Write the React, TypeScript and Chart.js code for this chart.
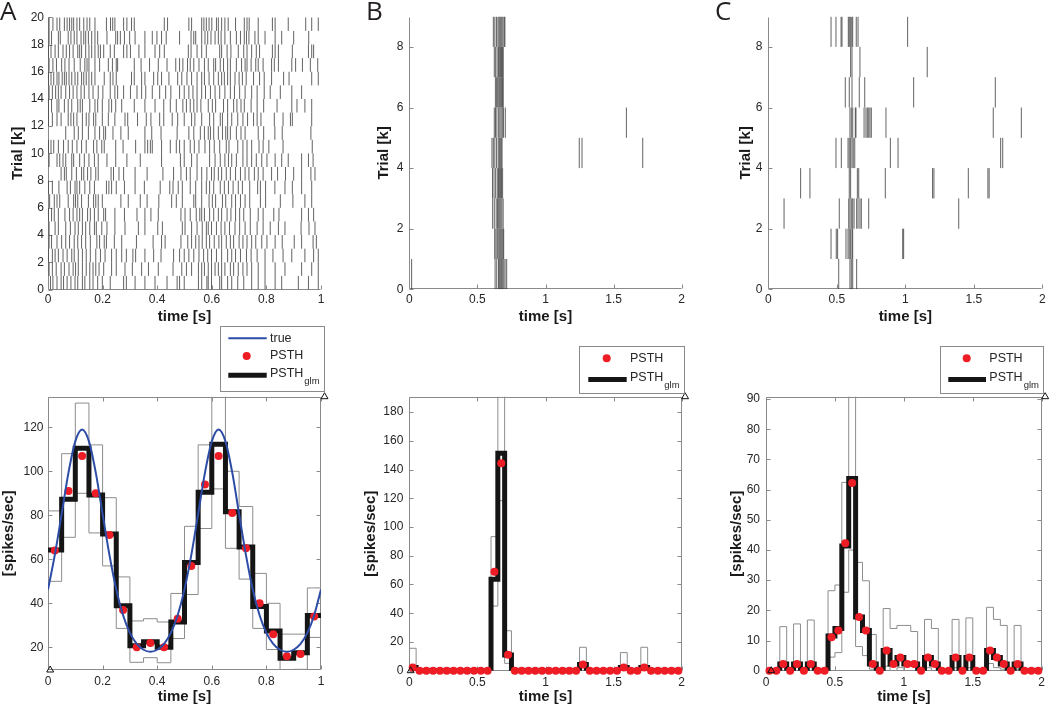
import React, { useEffect, useRef } from "react";
import { Chart, registerables } from "chart.js";

Chart.register(...registerables);

// ======================= DATA =======================
// Panel A raster: spike times [s], one array per trial (index 0 = trial 1)
const rasterA: number[][] = [
  [0.009,0.018,0.033,0.048,0.057,0.070,0.084,0.099,0.109,0.126,0.135,0.153,0.165,0.182,0.199,0.228,0.277,0.287,0.319,0.355,0.392,0.436,0.473,0.482,0.499,0.551,0.563,0.582,0.587,0.599,0.629,0.636,0.658,0.673,0.695,0.717,0.746,0.770,0.795,0.832,0.856,0.917,0.954,0.990],
  [0.004,0.016,0.030,0.048,0.060,0.077,0.092,0.101,0.111,0.126,0.140,0.153,0.165,0.175,0.187,0.204,0.233,0.250,0.282,0.309,0.343,0.368,0.404,0.458,0.490,0.507,0.526,0.551,0.563,0.573,0.587,0.599,0.612,0.624,0.636,0.648,0.668,0.680,0.697,0.714,0.729,0.746,0.770,0.795,0.832,0.868,0.929,0.966,0.990],
  [0.001,0.016,0.026,0.038,0.055,0.070,0.087,0.096,0.111,0.126,0.140,0.155,0.175,0.192,0.209,0.233,0.250,0.270,0.287,0.311,0.321,0.355,0.387,0.414,0.460,0.482,0.499,0.516,0.534,0.553,0.570,0.585,0.599,0.617,0.636,0.658,0.673,0.687,0.705,0.727,0.744,0.766,0.795,0.824,0.861,0.893,0.941,0.973,0.990],
  [0.004,0.013,0.033,0.050,0.065,0.079,0.096,0.109,0.123,0.138,0.155,0.179,0.189,0.206,0.214,0.243,0.270,0.324,0.385,0.416,0.429,0.487,0.512,0.526,0.541,0.553,0.565,0.580,0.592,0.609,0.626,0.636,0.653,0.668,0.680,0.700,0.714,0.729,0.746,0.761,0.783,0.802,0.832,0.858,0.902,0.929,0.971,0.983],
  [0.004,0.026,0.038,0.065,0.082,0.099,0.111,0.126,0.138,0.153,0.170,0.177,0.197,0.216,0.245,0.282,0.331,0.355,0.402,0.419,0.492,0.502,0.526,0.546,0.565,0.580,0.587,0.599,0.617,0.634,0.648,0.665,0.685,0.702,0.722,0.741,0.766,0.788,0.814,0.844,0.868,0.927,0.956,0.978],
  [0.001,0.013,0.023,0.038,0.062,0.079,0.092,0.106,0.116,0.126,0.145,0.155,0.170,0.184,0.204,0.211,0.245,0.280,0.326,0.355,0.377,0.404,0.487,0.502,0.521,0.543,0.556,0.563,0.573,0.592,0.607,0.624,0.636,0.656,0.670,0.687,0.702,0.717,0.741,0.770,0.788,0.827,0.846,0.929,0.954,0.973],
  [0.006,0.023,0.033,0.043,0.074,0.094,0.101,0.109,0.123,0.148,0.167,0.175,0.184,0.199,0.267,0.294,0.338,0.363,0.406,0.453,0.470,0.492,0.534,0.541,0.563,0.590,0.602,0.614,0.639,0.651,0.673,0.687,0.705,0.722,0.739,0.778,0.797,0.851,0.897,0.941,0.966],
  [0.001,0.016,0.040,0.070,0.082,0.099,0.106,0.116,0.135,0.153,0.170,0.214,0.223,0.233,0.250,0.280,0.319,0.353,0.411,0.446,0.458,0.477,0.492,0.521,0.541,0.563,0.580,0.592,0.607,0.631,0.646,0.661,0.678,0.697,0.712,0.739,0.768,0.778,0.797,0.831,0.868,0.895,0.929,0.966],
  [0.048,0.060,0.067,0.087,0.104,0.123,0.131,0.145,0.157,0.175,0.184,0.231,0.240,0.260,0.277,0.319,0.363,0.421,0.460,0.487,0.507,0.521,0.546,0.563,0.582,0.599,0.609,0.624,0.636,0.653,0.668,0.687,0.705,0.722,0.736,0.756,0.770,0.788,0.819,0.841,0.870,0.900,0.929,0.963,0.978],
  [0.004,0.033,0.043,0.055,0.065,0.087,0.094,0.116,0.133,0.150,0.170,0.184,0.216,0.248,0.289,0.338,0.416,0.485,0.499,0.526,0.546,0.592,0.612,0.631,0.648,0.661,0.673,0.690,0.714,0.729,0.746,0.763,0.783,0.802,0.832,0.856,0.880,0.929,0.954,0.971],
  [0.001,0.011,0.021,0.038,0.057,0.074,0.089,0.106,0.123,0.140,0.167,0.179,0.197,0.206,0.248,0.275,0.321,0.355,0.365,0.375,0.382,0.416,0.448,0.470,0.482,0.499,0.521,0.536,0.553,0.575,0.592,0.609,0.629,0.653,0.663,0.695,0.714,0.729,0.746,0.773,0.788,0.809,0.861,0.968],
  [0.065,0.096,0.111,0.126,0.148,0.172,0.189,0.204,0.211,0.238,0.267,0.294,0.355,0.380,0.414,0.473,0.516,0.534,0.558,0.573,0.587,0.595,0.607,0.624,0.639,0.651,0.658,0.668,0.690,0.707,0.722,0.770,0.790,0.831,0.858,0.963],
  [0.001,0.016,0.033,0.048,0.074,0.084,0.094,0.106,0.126,0.140,0.150,0.167,0.175,0.199,0.221,0.245,0.282,0.292,0.328,0.360,0.377,0.409,0.424,0.455,0.475,0.499,0.526,0.538,0.563,0.592,0.607,0.631,0.639,0.658,0.673,0.695,0.714,0.731,0.753,0.766,0.780,0.829,0.861,0.888,0.895,0.966],
  [0.001,0.013,0.033,0.040,0.060,0.074,0.087,0.109,0.118,0.126,0.153,0.172,0.182,0.199,0.223,0.233,0.248,0.270,0.316,0.355,0.392,0.424,0.448,0.470,0.494,0.507,0.521,0.534,0.546,0.560,0.587,0.602,0.614,0.643,0.658,0.680,0.692,0.707,0.719,0.744,0.766,0.790,0.839,0.893,0.912,0.941,0.966],
  [0.004,0.016,0.028,0.038,0.048,0.065,0.079,0.092,0.106,0.121,0.133,0.150,0.165,0.184,0.201,0.228,0.245,0.255,0.277,0.302,0.326,0.343,0.358,0.382,0.409,0.431,0.450,0.482,0.499,0.516,0.531,0.546,0.563,0.577,0.595,0.612,0.629,0.648,0.668,0.683,0.702,0.722,0.746,0.766,0.792,0.814,0.851,0.893,0.929],
  [0.001,0.011,0.021,0.033,0.040,0.052,0.060,0.067,0.077,0.087,0.099,0.109,0.123,0.131,0.140,0.150,0.160,0.172,0.206,0.228,0.238,0.250,0.306,0.316,0.343,0.355,0.387,0.402,0.416,0.443,0.475,0.490,0.509,0.526,0.546,0.563,0.573,0.590,0.607,0.624,0.636,0.646,0.658,0.668,0.685,0.700,0.712,0.726,0.753,0.775,0.792,0.819,0.863,0.883,0.966,0.990],
  [0.004,0.018,0.031,0.050,0.062,0.077,0.096,0.118,0.135,0.143,0.150,0.172,0.189,0.221,0.236,0.250,0.255,0.316,0.341,0.372,0.404,0.436,0.468,0.482,0.494,0.511,0.521,0.534,0.553,0.573,0.587,0.607,0.614,0.631,0.643,0.658,0.668,0.690,0.709,0.722,0.729,0.744,0.761,0.770,0.788,0.819,0.829,0.844,0.893,0.907,0.932,0.961,0.988],
  [0.001,0.011,0.026,0.038,0.055,0.067,0.079,0.092,0.109,0.116,0.123,0.138,0.150,0.160,0.172,0.184,0.192,0.204,0.228,0.243,0.277,0.289,0.302,0.333,0.355,0.392,0.409,0.426,0.514,0.524,0.546,0.563,0.580,0.629,0.636,0.656,0.670,0.697,0.717,0.729,0.746,0.763,0.775,0.822,0.832,0.844,0.895,0.954,0.966,0.973],
  [0.004,0.013,0.038,0.045,0.074,0.084,0.096,0.106,0.121,0.131,0.138,0.148,0.160,0.172,0.182,0.216,0.248,0.255,0.265,0.280,0.299,0.319,0.355,0.382,0.399,0.416,0.433,0.482,0.524,0.534,0.541,0.563,0.575,0.585,0.597,0.612,0.624,0.634,0.648,0.668,0.690,0.705,0.719,0.727,0.736,0.758,0.770,0.795,0.832,0.856,0.900,0.955],
  [0.004,0.018,0.033,0.043,0.060,0.070,0.079,0.087,0.094,0.106,0.116,0.131,0.143,0.153,0.172,0.214,0.229,0.237,0.245,0.277,0.289,0.306,0.316,0.426,0.438,0.516,0.526,0.563,0.571,0.580,0.590,0.600,0.617,0.624,0.636,0.648,0.660,0.687,0.719,0.729,0.737,0.770,0.822,0.832,0.880,0.944,0.966,0.990],
];

// Panel B raster (index 0 = trial 1)
const rasterB: number[][] = [
  [0.017,0.630,0.642,0.655,0.663,0.671,0.678,0.686,0.694,0.703,0.715],
  [0.627,0.636,0.645,0.652,0.660,0.667,0.674,0.681,0.688,0.693],
  [0.612,0.624,0.638,0.648,0.656,0.664,0.672,0.680,0.689],
  [0.611,0.622,0.634,0.646,0.655,0.662,0.670,0.677,0.685],
  [0.607,0.617,0.628,0.641,0.653,0.661,0.668,0.675,0.681,1.248,1.268,1.714],
  [0.624,0.633,0.643,0.656,0.665,0.674,0.683,0.692,0.705,1.594],
  [0.632,0.641,0.649,0.657,0.664,0.671,0.678,0.684,0.690],
  [0.624,0.634,0.645,0.655,0.663,0.670,0.677,0.684,0.690],
  [0.617,0.628,0.640,0.651,0.659,0.666,0.673,0.680,0.688,0.697,0.702],
];

// Panel C raster (index 0 = trial 1)
const rasterC: number[][] = [
  [0.514,0.596,0.606,0.616,0.645],
  [0.458,0.496,0.506,0.567,0.582,0.591,0.601,0.611,0.616,0.981,0.988],
  [0.115,0.518,0.587,0.596,0.606,0.616,0.626,0.645,0.655,0.669,0.679,0.733,1.390],
  [0.236,0.304,0.591,0.601,0.650,0.660,0.854,1.199,1.209,1.460,1.603,1.612],
  [0.494,0.533,0.582,0.591,0.601,0.611,0.620,0.631,0.891,0.947,1.696,1.711],
  [0.596,0.606,0.616,0.635,0.640,0.699,0.713,0.723,0.733,0.742,0.752,0.859,1.642,1.847],
  [0.562,0.591,0.611,0.664,0.704,1.061,1.657],
  [0.601,0.611,0.669,1.160],
  [0.458,0.494,0.531,0.538,0.584,0.591,0.599,0.609,0.616,0.642,0.655,1.017],
];

// Panel A rates (20 bins of 0.05 s)
const binEdgesA = [0,0.05,0.1,0.15,0.2,0.25,0.3,0.35,0.4,0.45,0.5,0.55,0.6,0.65,0.7,0.75,0.8,0.85,0.9,0.95,1];
const psthA = [64,91,107,90,71,37,20,22,20,33,57,94,107,81,65,40,26,16,17,34];
const psthGlmA = [64.2,87.3,110.5,89.2,71.5,38.9,20.7,22.5,20,31.5,58.5,90.5,112.3,81.6,65.6,38.6,27.4,15,17.5,34.5];
const upperA = [82,108,131,112,88,52,32,33,31.5,44.5,75,112,145,100,84,53.6,40,26,26,47];
const lowerA = [50,70,90,72,57,28.6,13.2,15.3,13,24,44,74,92,65,51,28.6,19,9.5,10,24.5];
const trueTimeA = [0,0.025,0.05,0.075,0.1,0.125,0.15,0.175,0.2,0.225,0.25,0.275,0.3,0.325,0.35,0.375,0.4,0.425,0.45,0.475,0.5,0.525,0.55,0.575,0.6,0.625,0.65,0.675,0.7,0.725,0.75,0.775,0.8,0.825,0.85,0.875,0.9,0.925,0.95,0.975,1];
const trueRateA = [46.3,62.0,80.6,99.4,113.6,119.0,113.6,99.4,80.6,62.0,46.3,34.6,26.6,21.6,18.9,18.0,18.9,21.6,26.6,34.6,46.3,62.0,80.6,99.4,113.6,119.0,113.6,99.4,80.6,62.0,46.3,34.6,26.6,21.6,18.9,18.0,18.9,21.6,26.6,34.6,46.3];

// Panels B and C rates (40 bins of 0.05 s)
const binEdgesBC = [0,0.05,0.1,0.15,0.2,0.25,0.3,0.35,0.4,0.45,0.5,0.55,0.6,0.65,0.7,0.75,0.8,0.85,0.9,0.95,1,1.05,1.1,1.15,1.2,1.25,1.3,1.35,1.4,1.45,1.5,1.55,1.6,1.65,1.7,1.75,1.8,1.85,1.9,1.95,2];
const psthB = [2.2,0,0,0,0,0,0,0,0,0,0,0,68.9,144.4,11.1,0,0,0,0,0,0,0,0,0,0,4.4,0,0,0,0,0,2.2,0,0,2.2,0,0,0,0,0];
const psthGlmB = [2.2,0,0,0,0,0,0,0,0,0,0,0,63.6,151.3,11,0,0,0,0,0,0,0,0,0,0,4.4,0,0,0,0,0,2.2,0,0,2.2,0,0,0,0,0];
const upperB = [15.6,0,0,0,0,0,0,0,0,0,0,0,93.3,260,27.8,0,0,0,0,0,0,0,0,0,0,16.3,0,0,0,0,0,12.6,0,0,16.3,0,0,0,0,0];
const lowerB = [0,0,0,0,0,0,0,0,0,0,0,0,45,118.3,5.1,0,0,0,0,0,0,0,0,0,0,0,0,0,0,0,0,0,0,0,0,0,0,0,0,0];
const psthC = [0,0,2.2,0,2.2,0,2.2,0,0,11.1,13.3,42.2,62.2,17.8,13.3,2.2,0,6.7,2.2,4.4,2.2,2.2,0,4.4,2.2,0,0,4.4,0,4.4,0,0,6.7,4.4,2.2,0,2.2,0,0,0];
const psthGlmC = [0,0,2.2,0,2.2,0,2.2,0,0,11.5,14,41.3,63.7,17.8,13.3,2.2,0,6.7,2.2,4.4,2.2,2.2,0,4.4,2.2,0,0,4.4,0,4.4,0,0,6.7,4.4,2.2,0,2.2,0,0,0];
const upperC = [0,0,14.6,0,15.5,0,16.8,0,0,26.5,28.4,62.4,120,35.9,29.8,12,0,20.6,14,15,15,13,0,17,14,0,0,17,0,17.5,0,0,21,17,15,0,15,0,0,0];
const lowerC = [0,0,0,0,0,0,0,0,0,4.5,6,26,40,8,5,0.5,0,1.5,0,1,0,0,0,1,0,0,0,1,0,1,0,0,2.4,1,0.5,0,0.5,0,0,0];

// Axis ranges and tick values
const xRangeA = [0, 1];
const xRangeBC = [0, 2];
const xTicksA = [0, 0.2, 0.4, 0.6, 0.8, 1];
const xTicksBC = [0, 0.5, 1, 1.5, 2];
const yRangeRasterA = [0, 20];
const yRangeRasterBC = [0, 9];
const yTicksRasterA = [0, 2, 4, 6, 8, 10, 12, 14, 16, 18, 20];
const yTicksRasterBC = [0, 2, 4, 6, 8];
const yRangeRateA = [9.7, 133.9];
const yRangeRateB = [0, 190.7];
const yRangeRateC = [0, 90.8];
const yTicksRateA = [20, 40, 60, 80, 100, 120];
const yTicksRateB = [0, 20, 40, 60, 80, 100, 120, 140, 160, 180];
const yTicksRateC = [0, 10, 20, 30, 40, 50, 60, 70, 80, 90];

// Corner markers (open triangles)
const cornerMarkersA = [{ x: 0.008, y: 9.7 }, { x: 1.013, y: 133.9 }];
const cornerMarkersB = [{ x: 0.01, y: 0 }, { x: 2.025, y: 190.7 }];
const cornerMarkersC = [{ x: 0.038, y: 0 }, { x: 2.025, y: 90.8 }];

// Text
const panelLetters = ["A", "B", "C"];
const xTitle = "time [s]";
const yTitleRaster = "Trial [k]";
const yTitleRate = "[spikes/sec]";
const legendTrue = "true";
const legendPsth = "PSTH";
const legendGlmSub = "glm";

// ======================= STYLE / LAYOUT =======================
const FONT = '"Liberation Sans", Arial, Helvetica, sans-serif';
const AXIS_COLOR = "#8a8a8a";
const TEXT_COLOR = "#262626";
const RASTER_COLOR = "rgba(45,45,45,0.75)";
const BOUND_COLOR = "#8c8c8c";
const GLM_COLOR = "#151515";
const DOT_COLOR = "#ee1c25";
const TRUE_COLOR = "#2d4ca6";
const TICK_LEN = 4;

const LAYOUT: any = {
  aTop: { canvas: { x: 0, y: 0, w: 350, h: 340 }, plot: { l: 48, t: 17.3, r: 321, b: 289.5 }, yTitleX: 17.5, xTitleY: 316.5, yTickPad: 4, xTickPad: 3 },
  aBot: { canvas: { x: 0, y: 320, w: 350, h: 386 }, plot: { l: 48, t: 396.7, r: 321, b: 670 }, yTitleX: 9, xTitleY: 697, yTickPad: 4.5, xTickPad: 4.5 },
  bTop: { canvas: { x: 340, y: 0, w: 370, h: 340 }, plot: { l: 409.3, t: 16.6, r: 681.7, b: 289.3 }, yTitleX: 384, xTitleY: 316.5, yTickPad: 6, xTickPad: 3 },
  bBot: { canvas: { x: 340, y: 320, w: 370, h: 386 }, plot: { l: 409.3, t: 396.7, r: 681.7, b: 670.7 }, yTitleX: 371, xTitleY: 697, yTickPad: 6, xTickPad: 4.5 },
  cTop: { canvas: { x: 700, y: 0, w: 350, h: 340 }, plot: { l: 768.3, t: 16.6, r: 1042.3, b: 289.3 }, yTitleX: 745.5, xTitleY: 316.5, yTickPad: 6, xTickPad: 3 },
  cBot: { canvas: { x: 700, y: 320, w: 350, h: 386 }, plot: { l: 766, t: 396.7, r: 1041.7, b: 670.7 }, yTitleX: 737, xTitleY: 697, yTickPad: 6, xTickPad: 4.5 },
};

const LETTER_POS = [{ x: 0, y: 20 }, { x: 366, y: 20 }, { x: 715, y: 20 }];

const LEGENDS: any = {
  a: {
    box: { x: 220, y: 326, w: 104.3, h: 64.7 }, textX: 270,
    items: [
      { kind: "line", color: TRUE_COLOR, width: 2, x0: 228.3, x1: 266.7, y: 338.3, ty: 338.3, label: legendTrue },
      { kind: "dot", cx: 246.7, y: 356, ty: 356, label: legendPsth },
      { kind: "line", color: GLM_COLOR, width: 5, x0: 228.3, x1: 266.7, y: 375.3, ty: 373.8, label: legendPsth, sub: legendGlmSub },
    ],
  },
  b: {
    box: { x: 579.3, y: 346, w: 104.7, h: 46.7 }, textX: 630,
    items: [
      { kind: "dot", cx: 606.7, y: 358.3, ty: 358.3, label: legendPsth },
      { kind: "line", color: GLM_COLOR, width: 5, x0: 588.3, x1: 626.7, y: 379.5, ty: 377.7, label: legendPsth, sub: legendGlmSub },
    ],
  },
  c: {
    box: { x: 940, y: 346, w: 103, h: 46.7 }, textX: 989.3,
    items: [
      { kind: "dot", cx: 966.7, y: 358.3, ty: 358.3, label: legendPsth },
      { kind: "line", color: GLM_COLOR, width: 5, x0: 948.3, x1: 986, y: 379.5, ty: 377.7, label: legendPsth, sub: legendGlmSub },
    ],
  },
};

// ======================= HELPERS =======================
const halfRow = (c: any) => {
  const ys = c.chart.scales.y;
  return Math.abs(ys.getPixelForValue(0) - ys.getPixelForValue(1)) / 2;
};

function rasterDataset(rows: number[][]) {
  const pts = rows.flatMap((r, k) => r.map((t) => ({ x: t, y: k + 0.5 })));
  return {
    type: "scatter",
    data: pts,
    pointStyle: "line",
    pointRotation: 90,
    pointRadius: halfRow,
    pointHoverRadius: halfRow,
    pointBorderColor: RASTER_COLOR,
    pointBackgroundColor: RASTER_COLOR,
    pointBorderWidth: 1,
    order: 5,
  };
}

function stepDataset(edges: number[], values: number[], color: string, width: number, order: number) {
  const pts = edges.map((x, i) => ({ x, y: values[Math.min(i, values.length - 1)] }));
  return {
    type: "line",
    data: pts,
    stepped: "before",
    borderColor: color,
    borderWidth: width,
    pointRadius: 0,
    pointHoverRadius: 0,
    fill: false,
    borderJoinStyle: "miter",
    borderCapStyle: "butt",
    order,
  };
}

function dotDataset(edges: number[], values: number[]) {
  const pts = values.map((v, i) => ({ x: (edges[i] + edges[i + 1]) / 2, y: v }));
  return {
    type: "scatter",
    data: pts,
    pointStyle: "circle",
    pointRadius: 4,
    pointHoverRadius: 4,
    pointBackgroundColor: DOT_COLOR,
    pointBorderColor: DOT_COLOR,
    pointBorderWidth: 0,
    clip: false,
    order: 2,
  };
}

function trueDataset(ts: number[], vs: number[]) {
  return {
    type: "line",
    data: ts.map((t, i) => ({ x: t, y: vs[i] })),
    borderColor: TRUE_COLOR,
    borderWidth: 2,
    pointRadius: 0,
    pointHoverRadius: 0,
    cubicInterpolationMode: "monotone",
    fill: false,
    order: 1,
  };
}

function cornerDataset(pts: { x: number; y: number }[]) {
  return {
    type: "scatter",
    data: pts,
    pointStyle: "triangle",
    pointRadius: 4,
    pointHoverRadius: 4,
    pointBackgroundColor: "rgba(255,255,255,0)",
    pointBorderColor: "#111",
    pointBorderWidth: 1,
    clip: false,
    order: 0,
  };
}

function drawAxes(chart: any, box: boolean) {
  const { ctx, chartArea: a, scales } = chart;
  const xs = scales.x;
  const ys = scales.y;
  const L = Math.round(a.left) + 0.5;
  const R = Math.round(a.right) - 0.5;
  const T = Math.round(a.top) + 0.5;
  const B = Math.round(a.bottom) - 0.5;
  ctx.save();
  ctx.strokeStyle = AXIS_COLOR;
  ctx.lineWidth = 1;
  ctx.beginPath();
  if (box) {
    ctx.rect(L, T, R - L, B - T);
  } else {
    ctx.moveTo(L, T);
    ctx.lineTo(L, B);
    ctx.lineTo(R, B);
  }
  ctx.stroke();
  ctx.beginPath();
  for (const t of xs.ticks) {
    const px = Math.round(xs.getPixelForValue(t.value)) + 0.5;
    ctx.moveTo(px, B);
    ctx.lineTo(px, B - TICK_LEN);
    if (box) {
      ctx.moveTo(px, T);
      ctx.lineTo(px, T + TICK_LEN);
    }
  }
  for (const t of ys.ticks) {
    const py = Math.round(ys.getPixelForValue(t.value)) + 0.5;
    ctx.moveTo(L, py);
    ctx.lineTo(L + TICK_LEN, py);
    if (box) {
      ctx.moveTo(R, py);
      ctx.lineTo(R - TICK_LEN, py);
    }
  }
  ctx.stroke();
  ctx.restore();
}

function drawLegend(ctx: CanvasRenderingContext2D, lg: any, ox: number, oy: number) {
  ctx.save();
  const bx = Math.round(lg.box.x - ox) + 0.5;
  const by = Math.round(lg.box.y - oy) + 0.5;
  const bw = Math.round(lg.box.w);
  const bh = Math.round(lg.box.h);
  ctx.fillStyle = "#fff";
  ctx.fillRect(bx, by, bw, bh);
  ctx.strokeStyle = "#8a8a8a";
  ctx.lineWidth = 1;
  ctx.strokeRect(bx, by, bw, bh);
  for (const it of lg.items) {
    const iy = it.y - oy;
    if (it.kind === "line") {
      ctx.strokeStyle = it.color;
      ctx.lineWidth = it.width;
      ctx.lineCap = "butt";
      ctx.beginPath();
      ctx.moveTo(it.x0 - ox, iy);
      ctx.lineTo(it.x1 - ox, iy);
      ctx.stroke();
    } else {
      ctx.fillStyle = DOT_COLOR;
      ctx.beginPath();
      ctx.arc(it.cx - ox, iy, 4, 0, Math.PI * 2);
      ctx.fill();
    }
    ctx.fillStyle = TEXT_COLOR;
    ctx.textAlign = "left";
    ctx.textBaseline = "middle";
    ctx.font = `12.5px ${FONT}`;
    ctx.fillText(it.label, lg.textX - ox, it.ty - oy);
    if (it.sub) {
      const w = ctx.measureText(it.label).width;
      ctx.font = `9.5px ${FONT}`;
      ctx.fillText(it.sub, lg.textX - ox + w + 1, it.ty - oy + 8);
    }
  }
  ctx.restore();
}

function makeDecor(spec: any) {
  return {
    id: "matlabDecor",
    beforeDatasetsDraw(chart: any) {
      drawAxes(chart, spec.box);
    },
    afterDraw(chart: any) {
      const ctx = chart.ctx;
      const { x: ox, y: oy } = spec.layout.canvas;
      if (spec.letter) {
        ctx.save();
        ctx.fillStyle = "#231f20";
        ctx.font = `26px "Open Sans", ${FONT}`;
        ctx.textAlign = "left";
        ctx.textBaseline = "alphabetic";
        ctx.fillText(spec.letter.text, spec.letter.x - ox, spec.letter.y - oy);
        ctx.restore();
      }
      if (spec.legend) drawLegend(ctx, spec.legend, ox, oy);
    },
  };
}

function makeConfig(spec: any) {
  const lay = spec.layout;
  const c = lay.canvas;
  const p = lay.plot;
  const half = 9; // half of title line height (15px * 1.2 / 2)
  const padL = lay.yTitleX - c.x - half;
  const wY = p.l - c.x - padL;
  const padT = p.t - c.y;
  const padR = c.x + c.w - p.r;
  const bottomEdge = lay.xTitleY + half;
  const padB = c.y + c.h - bottomEdge;
  const hX = bottomEdge - p.b;
  const tickFont = { family: FONT, size: 12 };
  const titleFont = { family: FONT, size: 15, weight: "bold", lineHeight: 1.2 };
  return {
    type: "scatter",
    data: { datasets: spec.datasets },
    options: {
      responsive: false,
      animation: false,
      events: [],
      layout: { padding: { left: padL, right: padR, top: padT, bottom: padB } },
      plugins: { legend: { display: false }, tooltip: { enabled: false }, title: { display: false } },
      scales: {
        x: {
          type: "linear",
          position: "bottom",
          min: spec.xRange[0],
          max: spec.xRange[1],
          afterBuildTicks: (s: any) => {
            s.ticks = spec.xTicks.map((v: number) => ({ value: v }));
          },
          afterFit: (s: any) => {
            s.height = hX;
          },
          grid: { display: false, drawTicks: false },
          border: { display: false },
          ticks: {
            font: tickFont,
            color: TEXT_COLOR,
            padding: lay.xTickPad,
            maxRotation: 0,
            autoSkip: false,
            callback: (v: any) => String(v),
          },
          title: { display: true, text: xTitle, font: titleFont, color: "#1a1a1a", padding: 0 },
        },
        y: {
          type: "linear",
          position: "left",
          min: spec.yRange[0],
          max: spec.yRange[1],
          afterBuildTicks: (s: any) => {
            s.ticks = spec.yTicks.map((v: number) => ({ value: v }));
          },
          afterFit: (s: any) => {
            s.width = wY;
          },
          grid: { display: false, drawTicks: false },
          border: { display: false },
          ticks: {
            font: tickFont,
            color: TEXT_COLOR,
            padding: lay.yTickPad,
            autoSkip: false,
            callback: (v: any) => String(v),
          },
          title: { display: true, text: spec.yTitle, font: titleFont, color: "#1a1a1a", padding: 0 },
        },
      },
    },
    plugins: [makeDecor(spec)],
  };
}

// ======================= PANELS =======================
function buildSpecs() {
  return [
    {
      key: "aTop", layout: LAYOUT.aTop, box: false,
      letter: { text: panelLetters[0], ...LETTER_POS[0] },
      xRange: xRangeA, xTicks: xTicksA, yRange: yRangeRasterA, yTicks: yTicksRasterA, yTitle: yTitleRaster,
      datasets: [rasterDataset(rasterA)],
    },
    {
      key: "aBot", layout: LAYOUT.aBot, box: true, legend: LEGENDS.a,
      xRange: xRangeA, xTicks: xTicksA, yRange: yRangeRateA, yTicks: yTicksRateA, yTitle: yTitleRate,
      datasets: [
        cornerDataset(cornerMarkersA),
        trueDataset(trueTimeA, trueRateA),
        dotDataset(binEdgesA, psthA),
        stepDataset(binEdgesA, psthGlmA, GLM_COLOR, 5, 3),
        stepDataset(binEdgesA, upperA, BOUND_COLOR, 1, 4),
        stepDataset(binEdgesA, lowerA, BOUND_COLOR, 1, 4),
      ],
    },
    {
      key: "bTop", layout: LAYOUT.bTop, box: false,
      letter: { text: panelLetters[1], ...LETTER_POS[1] },
      xRange: xRangeBC, xTicks: xTicksBC, yRange: yRangeRasterBC, yTicks: yTicksRasterBC, yTitle: yTitleRaster,
      datasets: [rasterDataset(rasterB)],
    },
    {
      key: "bBot", layout: LAYOUT.bBot, box: true, legend: LEGENDS.b,
      xRange: xRangeBC, xTicks: xTicksBC, yRange: yRangeRateB, yTicks: yTicksRateB, yTitle: yTitleRate,
      datasets: [
        cornerDataset(cornerMarkersB),
        dotDataset(binEdgesBC, psthB),
        stepDataset(binEdgesBC, psthGlmB, GLM_COLOR, 5, 3),
        stepDataset(binEdgesBC, upperB, BOUND_COLOR, 1, 4),
        stepDataset(binEdgesBC, lowerB, BOUND_COLOR, 1, 4),
      ],
    },
    {
      key: "cTop", layout: LAYOUT.cTop, box: false,
      letter: { text: panelLetters[2], ...LETTER_POS[2] },
      xRange: xRangeBC, xTicks: xTicksBC, yRange: yRangeRasterBC, yTicks: yTicksRasterBC, yTitle: yTitleRaster,
      datasets: [rasterDataset(rasterC)],
    },
    {
      key: "cBot", layout: LAYOUT.cBot, box: true, legend: LEGENDS.c,
      xRange: xRangeBC, xTicks: xTicksBC, yRange: yRangeRateC, yTicks: yTicksRateC, yTitle: yTitleRate,
      datasets: [
        cornerDataset(cornerMarkersC),
        dotDataset(binEdgesBC, psthC),
        stepDataset(binEdgesBC, psthGlmC, GLM_COLOR, 5, 3),
        stepDataset(binEdgesBC, upperC, BOUND_COLOR, 1, 4),
        stepDataset(binEdgesBC, lowerC, BOUND_COLOR, 1, 4),
      ],
    },
  ];
}

function Panel({ spec }: { spec: any }) {
  const ref = useRef<HTMLCanvasElement | null>(null);
  useEffect(() => {
    if (!ref.current) return;
    const chart = new Chart(ref.current, makeConfig(spec) as any);
    return () => chart.destroy();
  }, [spec]);
  const c = spec.layout.canvas;
  return (
    <canvas
      ref={ref}
      width={c.w}
      height={c.h}
      style={{ position: "absolute", left: c.x, top: c.y, width: c.w, height: c.h, display: "block" }}
    />
  );
}

const SPECS = buildSpecs();

export default function App() {
  return (
    <div
      style={{
        position: "fixed",
        left: 0,
        top: 0,
        width: 1050,
        height: 706,
        background: "#ffffff",
        overflow: "hidden",
      }}
    >
      {SPECS.map((s) => (
        <Panel key={s.key} spec={s} />
      ))}
    </div>
  );
}
